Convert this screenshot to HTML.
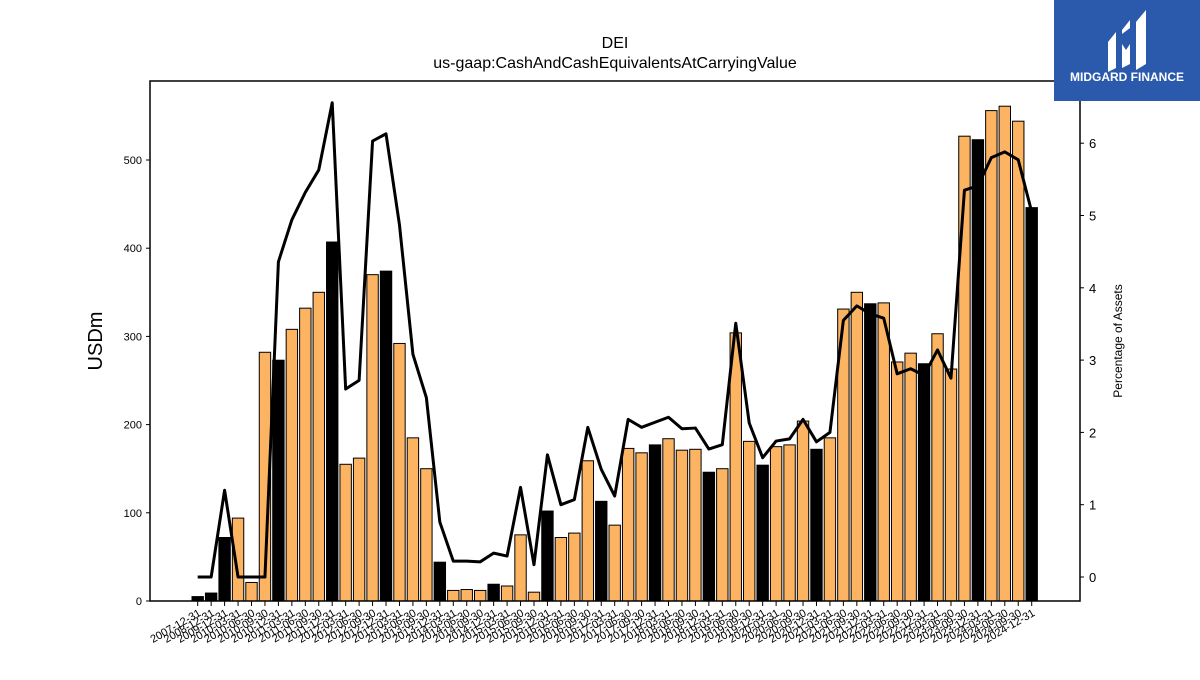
<!DOCTYPE html>
<html><head><meta charset="utf-8"><style>
body{margin:0;background:#fff;width:1200px;height:675px;overflow:hidden;font-family:"Liberation Sans","DejaVu Sans",sans-serif}
</style></head><body>
<svg id="chart" width="1200" height="675" xmlns="http://www.w3.org/2000/svg">
<text x="615" y="48" text-anchor="middle" font-size="16">DEI</text>
<text x="615" y="68" text-anchor="middle" font-size="16">us-gaap:CashAndCashEquivalentsAtCarryingValue</text>
<text transform="translate(102,341) rotate(-90)" text-anchor="middle" font-size="20">USDm</text>
<text transform="translate(1122,341) rotate(-90)" text-anchor="middle" font-size="12">Percentage of Assets</text>
<g id="bars"></g><g id="line"></g><g id="axes"></g>
<g>
<rect x="1054" y="0" width="146" height="101" fill="#2b5aad"/>
<path d="M1108 42 l8 -10 v36 l-8 4z M1122 30 l8 -10 v8 l-8 6z M1122 44 l4 6 l4 -6 v20 l-8 4z M1136 22 l10 -12 v54 l-10 6z" fill="#fff"/>
<text x="1127" y="81" text-anchor="middle" font-size="12" font-weight="bold" fill="#fff">MIDGARD FINANCE</text>
</g>
</svg>
<script>
const labels=["2007-12-31","2008-12-31","2009-12-31"];
const quarterEnds=["03-31","06-30","09-30","12-31"];
for(let y=2010;y<=2024;y++){for(const q of quarterEnds){labels.push(y+"-"+q);}}
const cashValues=[5,9,72,94,21,282,273,308,332,350,407,155,162,370,374,292,185,150,44,12,13,12,19,17,75,10,102,72,77,159,113,86,173,168,177,184,171,172,146,150,304,181,154,175,177,204,172,185,331,350,337,338,271,281,269,303,263,527,523,556,561,544,446];
const pctValues=[0,0,1.2,0,0,0,4.36,4.94,5.32,5.63,6.56,2.6,2.72,6.03,6.13,4.87,3.08,2.48,0.76,0.22,0.22,0.21,0.33,0.29,1.24,0.17,1.69,1.0,1.07,2.07,1.49,1.12,2.18,2.07,2.14,2.21,2.05,2.06,1.77,1.83,3.51,2.13,1.65,1.88,1.91,2.18,1.87,2.0,3.55,3.75,3.64,3.58,2.81,2.88,2.79,3.14,2.75,5.35,5.41,5.8,5.88,5.77,5.05];
const leftTicks=[0,100,200,300,400,500];
const rightTicks=[0,1,2,3,4,5,6];
const NS="http://www.w3.org/2000/svg";
const L=150,R=1080,T=81,B=601;
const x=i=>197.7+i*(1031.7-197.7)/(labels.length-1);
const yL=v=>601-v*0.882;
const yR=p=>577-p*72.3;
function mk(tag,attrs,parent){const e=document.createElementNS(NS,tag);for(const k in attrs)e.setAttribute(k,attrs[k]);parent.appendChild(e);return e;}
const bars=document.getElementById('bars'),line=document.getElementById('line'),axes=document.getElementById('axes');
cashValues.forEach((v,i)=>{
 const annual=labels[i].endsWith("12-31");
 const r=mk('rect',{x:x(i)-5.7,y:yL(v),width:11.4,height:B-yL(v),fill:annual?'#000':'#fdb462',stroke:'#000','stroke-width':1},bars);
 
 
});
const pl=mk('polyline',{points:pctValues.map((p,i)=>x(i)+','+yR(p)).join(' '),fill:'none',stroke:'#000','stroke-width':3,'stroke-linejoin':'round'},line);


const frame=mk('rect',{x:L,y:T,width:R-L,height:B-T,fill:'none',stroke:'#000','stroke-width':1.5},axes);


leftTicks.forEach(v=>{
 mk('line',{x1:L-4,x2:L,y1:yL(v),y2:yL(v),stroke:'#000'},axes);
 const t=mk('text',{x:L-8,y:yL(v)+4,'text-anchor':'end','font-size':11},axes);t.textContent=v;
 
 
});
rightTicks.forEach(v=>{
 mk('line',{x1:R,x2:R+4,y1:yR(v),y2:yR(v),stroke:'#000'},axes);
 const t=mk('text',{x:R+9,y:yR(v)+5,'font-size':13},axes);t.textContent=v;
 
 
});
labels.forEach((l,i)=>{
 mk('line',{x1:x(i),x2:x(i),y1:B,y2:B+5,stroke:'#000'},axes);
 const t=mk('text',{'text-anchor':'end','font-size':11,transform:`translate(${x(i)+4},${B+14}) rotate(-30)`},axes);t.textContent=l;
 
 
});
</script>
</body></html>
